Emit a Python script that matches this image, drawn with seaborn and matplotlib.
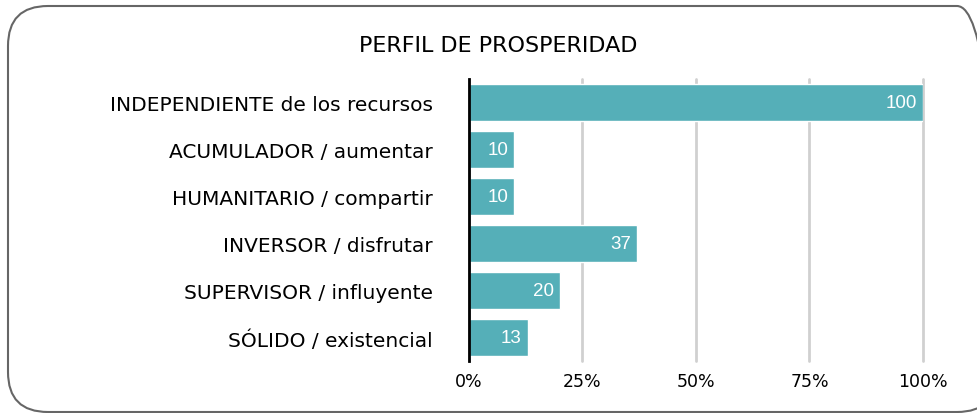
import numpy as np
import pandas as pd
import matplotlib
matplotlib.use("Agg")
import matplotlib.pyplot as plt
import seaborn as sns
from matplotlib.patches import FancyBboxPatch

categories = [
    "INDEPENDIENTE de los recursos",
    "ACUMULADOR / aumentar",
    "HUMANITARIO / compartir",
    "INVERSOR / disfrutar",
    "SUPERVISOR / influyente",
    "SÓLIDO / existencial",
]
values = [100, 10, 10, 37, 20, 13]
x_ticks = [0, 25, 50, 75, 100]
x_tick_labels = ["0%", "25%", "50%", "75%", "100%"]

BAR_COLOR = "#55AFB8"

sns.set_style("white")
plt.rcParams["font.family"] = ["DejaVu Sans"]
plt.rcParams["text.color"] = "black"
plt.rcParams["xtick.color"] = "black"
plt.rcParams["ytick.color"] = "black"

df = pd.DataFrame({"perfil": categories, "valor": values})

W, H = 978, 414
fig = plt.figure(figsize=(W / 100, H / 100), dpi=100)
ax = fig.add_axes([469 / W, 1 - 362 / H, 454 / W, 282 / H])

sns.barplot(data=df, x="valor", y="perfil", color=BAR_COLOR, width=0.79,
            saturation=1, ax=ax, zorder=3)

ax.set_xlim(0, 100)
ax.set_ylim(5.5, -0.5)
ax.set_xticks(x_ticks)
ax.set_xticklabels(x_tick_labels, fontsize=12.5)
ax.tick_params(axis="y", labelsize=14.5, length=0, pad=26, labelcolor="black")
ax.tick_params(axis="x", length=0, pad=8, labelcolor="black")
ax.set_xlabel("")
ax.set_ylabel("")
ax.xaxis.grid(True, color="#D0D0D0", linewidth=2, zorder=0)
ax.set_axisbelow(True)
for line in ax.get_xgridlines():
    line.set_clip_on(False)
for s in ["top", "right", "bottom"]:
    ax.spines[s].set_visible(False)
ax.spines["left"].set_color("black")
ax.spines["left"].set_linewidth(2)
ax.spines["left"].set_zorder(5)

for i, v in enumerate(values):
    ax.annotate(str(v), (v, i), xytext=(-4.5, 0), textcoords="offset points",
                color="white", ha="right", va="center", fontsize=13.5,
                family=["Liberation Sans", "DejaVu Sans"], zorder=4)

fig.text(498 / W, 1 - 46 / H, "PERFIL DE PROSPERIDAD", ha="center",
         va="center", fontsize=16, color="black")

# rounded frame, right edge just past the image
box = FancyBboxPatch((8 / W, 1 / H), 989 / W, 406 / H,
                     boxstyle="round,pad=0,rounding_size=%f" % (40 / W),
                     transform=fig.transFigure, fill=False,
                     edgecolor="#666666", linewidth=1.5, clip_on=False,
                     mutation_aspect=W / H)
fig.patches.append(box)

fig.savefig("out.png", dpi=100)
